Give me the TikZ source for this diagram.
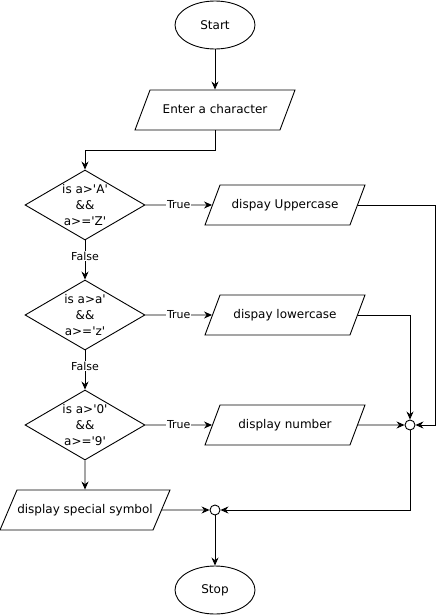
\documentclass[tikz,border=0pt]{standalone}
\usepackage{fontspec}
\setmainfont{DejaVu Sans}[Ligatures=TeXOff]
\usetikzlibrary{shapes.geometric,arrows.meta}

\tikzset{
    terminal/.style={draw, ellipse, minimum width=80pt, minimum height=48pt, inner sep=0pt},
    io/.style={draw, trapezium, trapezium stretches body=true, trapezium left angle=69.4,
        trapezium right angle=110.6, minimum width=160pt, minimum height=40pt,
        text height=9pt, text depth=3pt, inner ysep=14pt, inner xsep=0pt},
    decision/.style={draw, diamond, aspect=1.714, minimum width=120pt, minimum height=70pt,
        inner sep=0pt, align=center},
    junction/.style={draw, circle, fill=white, minimum size=10pt, inner sep=0pt},
    flow/.style={-{Stealth[length=8pt,width=7pt]}},
    lbl/.style={fill=white, inner sep=1pt, font=\fontsize{11}{13}\selectfont}
}

\begin{document}
\begin{tikzpicture}[x=1pt, y=-1pt, line width=0.9pt,
    every node/.style={font=\fontsize{12}{16}\selectfont}]
    \useasboundingbox (0,0) rectangle (444,616);

    % Start and input
    \node[terminal] (start) at (215,25) {Start};
    \node[io] (enter) at (215,110) {Enter a character};

    % Tests
    \node[decision] (upper) at (85,205) {is a>'A'\\\&\&\\a>='Z'};
    \node[decision] (lower) at (85,315) {is a>a'\\\&\&\\a>='z'};
    \node[decision] (digit) at (85,425) {is a>'0'\\\&\&\\a>='9'};

    % Outputs
    \node[io] (showupper) at (285,205) {dispay Uppercase};
    \node[io] (showlower) at (285,315) {dispay lowercase};
    \node[io] (shownum) at (285,425) {display number};
    \node[io, minimum width=170pt, trapezium left angle=67, trapezium right angle=113]
        (showspec) at (85,510) {display special symbol};

    % Joins and end
    \node[junction] (joinA) at (410,425) {};
    \node[junction] (joinB) at (215,510) {};
    \node[terminal] (stop) at (215,590) {Stop};

    % Connectors
    \draw[flow] (start) -- (enter);
    \draw[flow] (enter.south) -- ++(0,20) -| (upper.north);
    \draw[flow] (upper.east) -- node[lbl] {True} (showupper);
    \draw[flow] (lower.east) -- node[lbl] {True} (showlower);
    \draw[flow] (digit.east) -- node[lbl] {True} (shownum);
    \draw[flow] (upper.south) -- node[lbl, pos=0.4] {False} (lower.north);
    \draw[flow] (lower.south) -- node[lbl, pos=0.4] {False} (digit.north);
    \draw[flow] (digit.south) -- (showspec.north);
    \draw[flow] (showupper.east) -- ++(77.5,0) |- (joinA.east);
    \draw[flow] (showlower.east) -| (joinA.north);
    \draw[flow] (shownum.east) -- (joinA.west);
    \draw[flow] (joinA.south) |- (joinB.east);
    \draw[flow] (showspec.east) -- (joinB.west);
    \draw[flow] (joinB.south) -- (stop.north);
\end{tikzpicture}
\end{document}
